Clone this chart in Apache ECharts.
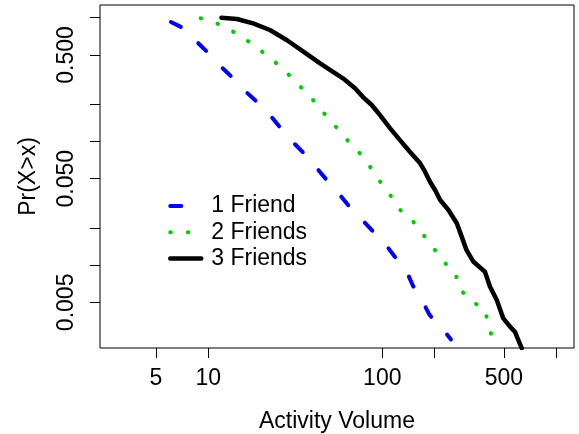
<!DOCTYPE html>
<html>
<head>
<meta charset="utf-8">
<script src="https://cdn.jsdelivr.net/npm/echarts@6/dist/echarts.min.js"></script>
<style>html,body{margin:0;padding:0;background:#fff}#c{width:579px;height:434px}</style>
</head>
<body>
<div id="c"></div>
<script>
// ---- data ----
var seriesNames = ['1 Friend', '2 Friends', '3 Friends'];
var x1 = [6.1, 7.1, 8.65, 9.9, 12, 13.7, 16.6, 19, 23.1, 26.1, 31.1, 35.5, 42.9, 48.3, 57.7, 65.2, 78.5, 88.8, 106, 118, 139, 150, 172, 186, 220, 229, 248];
var p1 = [0.923, 0.830, 0.633, 0.525, 0.394, 0.330, 0.249, 0.209, 0.1575, 0.1276, 0.0965, 0.0801, 0.0587, 0.0481, 0.0362, 0.0293, 0.0224, 0.0186, 0.01427, 0.01169, 0.00868, 0.00681, 0.00497, 0.0040, 0.00299, 0.00289, 0.00251];
var x2 = [9.04, 11.3, 13.9, 16.9, 20.4, 24.4, 29, 34.1, 40, 46.4, 54, 62.9, 73.8, 85, 96.6, 111, 125, 149, 171, 196, 222, 262, 277, 322, 389, 407, 439];
var p2 = [0.989, 0.894, 0.770, 0.648, 0.531, 0.433, 0.346, 0.274, 0.216, 0.168, 0.1315, 0.1026, 0.0810, 0.0624, 0.0478, 0.0369, 0.0284, 0.0229, 0.0178, 0.0139, 0.0108, 0.00885, 0.00649, 0.00513, 0.00442, 0.00322, 0.00237];
var x3 = [11.9, 14.6, 18.1, 22.6, 28.2, 35.2, 43.9, 59.7, 69.7, 77.8, 86.9, 97, 111, 126, 144, 165, 176, 188, 201, 215, 240, 268, 286, 305, 333, 389, 416, 455, 496, 542, 579, 605, 633];
var p3 = [1.0, 0.976, 0.901, 0.795, 0.660, 0.531, 0.428, 0.322, 0.269, 0.227, 0.197, 0.1634, 0.1276, 0.1028, 0.0825, 0.0665, 0.0569, 0.0472, 0.0405, 0.0336, 0.0279, 0.0218, 0.0170, 0.0132, 0.0107, 0.00885, 0.00669, 0.00522, 0.00371, 0.00318, 0.00289, 0.00248, 0.00213];
var xTicks = [5, 10, 100, 200, 500, 1000];
var xLabels = [5, 10, 100, 500];
var yTicks = [0.005, 0.01, 0.02, 0.05, 0.1, 0.2, 0.5, 1];
var yLabels = [0.005, 0.05, 0.5];
var xRange = [2.386, 1264];
var yRange = [0.002138, 1.2667];

function pairs(xs, ys) { return xs.map(function (v, i) { return [v, ys[i]]; }); }

var FONT = 'Liberation Sans, Arial, sans-serif';
var styles = [
  { color: '#0000FF', width: 4, type: [11, 24], cap: 'round', join: 'round' },
  { color: '#00CD00', width: 4, type: [0.5, 17.1], cap: 'round', join: 'round' },
  { color: '#000000', width: 4.5, type: 'solid', cap: 'round', join: 'round' }
];
var chart = echarts.init(document.getElementById('c'), null, { renderer: 'canvas' });
chart.setOption({
  animation: false,
  backgroundColor: '#fff',
  textStyle: { fontFamily: FONT },
  grid: { left: 100, top: 5, right: 5, bottom: 86, show: true, borderColor: '#000', borderWidth: 1,
    containLabel: false, outerBoundsMode: 'none' },
  xAxis: {
    type: 'log', logBase: 10, min: xRange[0], max: xRange[1],
    name: 'Activity Volume', nameLocation: 'middle', nameGap: 62,
    nameTextStyle: { fontSize: 23, color: '#000', fontFamily: FONT },
    axisLine: { show: false },
    splitLine: { show: false },
    minorTick: { show: false },
    axisTick: { show: true, inside: false, length: 10, customValues: xTicks, lineStyle: { color: '#000', width: 1 } },
    axisLabel: { customValues: xLabels, margin: 19, fontSize: 23, color: '#000', fontFamily: FONT,
      formatter: function (v) { return String(Math.round(v)); } }
  },
  yAxis: {
    type: 'log', logBase: 10, min: yRange[0], max: yRange[1],
    name: 'Pr(X>x)', nameLocation: 'middle', nameGap: 60, nameRotate: 90,
    nameTextStyle: { fontSize: 23, color: '#000', fontFamily: FONT },
    axisLine: { show: false },
    splitLine: { show: false },
    minorTick: { show: false },
    axisTick: { show: true, inside: false, length: 10, customValues: yTicks, lineStyle: { color: '#000', width: 1 } },
    axisLabel: { customValues: yLabels, rotate: 90, margin: 22, fontSize: 23, color: '#000', fontFamily: FONT,
      formatter: function (v) { return Number(v).toFixed(3); } }
  },
  legend: {
    orient: 'vertical', left: 168, top: 194.5, padding: 0, itemGap: 3.3,
    itemWidth: 31, itemHeight: 14,
    itemStyle: { opacity: 0 },
    textStyle: { fontSize: 23, color: '#000', fontFamily: FONT, lineHeight: 23, padding: [0, 0, 0, 5] },
    data: seriesNames.map(function (n, i) {
      return { name: n, lineStyle: styles[i], itemStyle: { opacity: 0 } };
    })
  },
  series: seriesNames.map(function (n, i) {
    var d = [pairs(x1, p1), pairs(x2, p2), pairs(x3, p3)][i];
    return { name: n, type: 'line', data: d, symbol: 'none', showSymbol: false, clip: true,
      itemStyle: { color: styles[i].color }, lineStyle: styles[i] };
  })
});
</script>
</body>
</html>
